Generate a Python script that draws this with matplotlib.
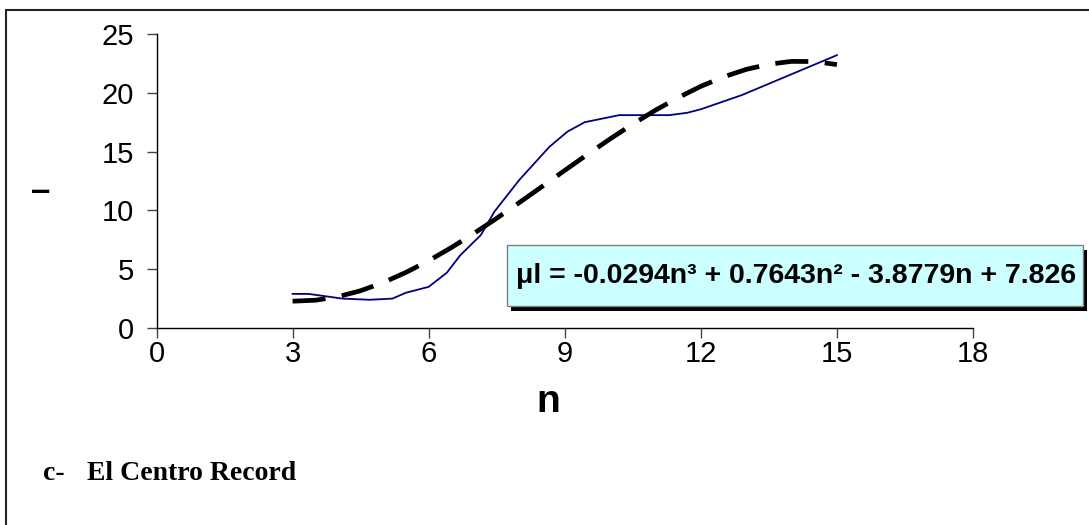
import matplotlib
matplotlib.use("Agg")
import matplotlib.pyplot as plt
from matplotlib.patches import Rectangle

plt.rcParams['font.family'] = ['Liberation Sans', 'DejaVu Sans']

# measured curve (blue)
n_obs = [3.0, 3.35, 4.1, 4.7, 5.2, 5.5, 6.0, 6.4, 6.7, 7.15, 7.45, 8.0, 8.66,
         9.06, 9.44, 10.2, 11.3, 11.7, 12.0, 12.9, 15.0]
mu_obs = [2.9, 2.9, 2.5, 2.4, 2.5, 3.0, 3.5, 4.7, 6.2, 7.9, 9.9, 12.6, 15.4,
          16.7, 17.5, 18.1, 18.1, 18.3, 18.6, 19.8, 23.2]

# trend line (black dashed)
n_fit = [3, 3.5, 4, 4.5, 5, 5.5, 6, 6.5, 7, 7.5, 8, 8.5, 9, 9.5, 10, 10.5,
         11, 11.5, 12, 12.5, 13, 13.5, 14, 14.5, 15]
mu_fit = [2.28, 2.36, 2.66, 3.17, 3.87, 4.73, 5.72, 6.84, 8.05, 9.33, 10.67,
          12.03, 13.40, 14.76, 16.08, 17.34, 18.52, 19.59, 20.55, 21.35,
          21.99, 22.43, 22.67, 22.66, 22.40]

x_ticks = [0, 3, 6, 9, 12, 15, 18]
y_ticks = [0, 5, 10, 15, 20, 25]
equation = "\u03bcl = -0.0294n\u00b3 + 0.7643n\u00b2 - 3.8779n + 7.826"
caption_tag = "c-"
caption = "El Centro Record"

W, H = 1089, 525
fig = plt.figure(figsize=(W / 100, H / 100), dpi=100)

# outer frame (right and bottom run off the image)
fig.patches.append(Rectangle((6 / W, -0.1), 1.2, 1 - 9.5 / H + 0.1,
                             transform=fig.transFigure, fill=False,
                             lw=1.5, ec='#222222'))

ax = fig.add_axes([156.5 / W, 1 - 328 / H, (973 - 156.5) / W, (328 - 34) / H])
ax.set_xlim(0, 18)
ax.set_ylim(0, 25)
ax.patch.set_visible(False)
for s in ['top', 'right']:
    ax.spines[s].set_visible(False)
for s in ['left', 'bottom']:
    ax.spines[s].set_linewidth(1.0)
    ax.spines[s].set_color('black')

ax.plot(n_obs, mu_obs, color='#000080', lw=1.3, zorder=2)
ax.plot(n_fit, mu_fit, color='black', lw=3.4, dashes=(7, 3.5),
        dash_capstyle='butt', zorder=3)

ax.set_xticks(x_ticks)
ax.set_yticks(y_ticks)
ax.tick_params(axis='both', direction='out', length=7, width=1,
               color='#444444', labelsize=21)
ax.tick_params(axis='x', pad=2)
ax.tick_params(axis='y', pad=9)

# equation box with shadow
fig.patches.append(Rectangle((511 / W, 1 - 311 / H), 576 / W, 61 / H,
                             transform=fig.transFigure, fc='black', ec='none'))
fig.patches.append(Rectangle((507 / W, 1 - 306 / H), 576 / W, 61 / H,
                             transform=fig.transFigure, fc='#CCFFFF',
                             ec='#808080', lw=1))
fig.text(796 / W, 1 - 276 / H, equation, ha='center', va='center',
         fontsize=20.5, fontweight='bold')

fig.text(41 / W, 1 - 192 / H, "\u2013", ha='center', va='center',
         fontsize=25, fontweight='bold')
fig.text(548 / W, 1 - 402 / H, "n", ha='center', va='center',
         fontsize=28, fontweight='bold')

fig.text(43 / W, 1 - 473 / H, caption_tag, ha='left', va='center',
         fontsize=20, fontweight='bold', family='Liberation Serif')
fig.text(87 / W, 1 - 473 / H, caption, ha='left', va='center',
         fontsize=20, fontweight='bold', family='Liberation Serif')

fig.savefig("out.png", dpi=100)
